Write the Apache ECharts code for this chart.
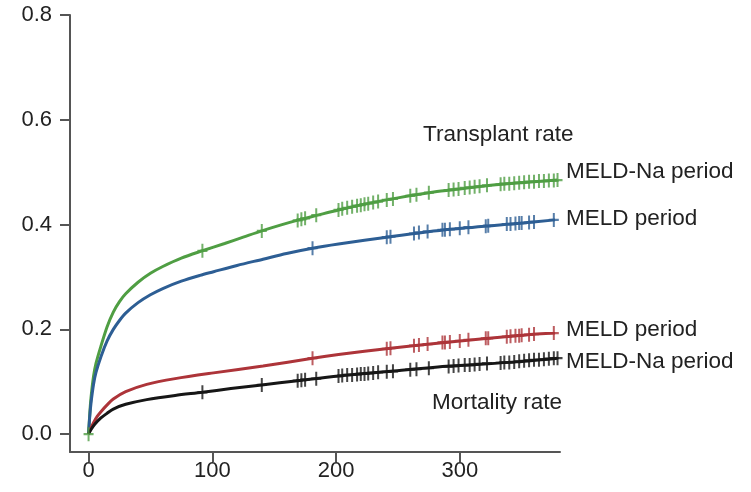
<!DOCTYPE html>
<html>
<head>
<meta charset="utf-8">
<script src="https://cdn.jsdelivr.net/npm/echarts@6/dist/echarts.min.js"></script>
<style>html,body{margin:0;padding:0;background:#fff}#c{width:751px;height:492px}</style>
</head>
<body>
<div id="c"></div>
<script>
// Axis ticks
var xTicks = [0, 100, 200, 300];
var yTicks = [0, 0.2, 0.4, 0.6, 0.8];

// Cumulative incidence curves [day, rate]
var transplantMeldNa = [[0,0],[1,0.04],[2,0.07],[4,0.11],[6,0.135],[10,0.168],[15,0.205],[20,0.233],[25,0.253],[30,0.268],[40,0.290],[50,0.307],[60,0.320],[75,0.336],[92,0.350],[110,0.364],[125,0.376],[140,0.388],[155,0.399],[170,0.409],[185,0.418],[202,0.428],[225,0.440],[250,0.451],[279,0.462],[300,0.468],[325,0.475],[350,0.480],[379,0.485]];
var transplantMeld = [[0,0],[1,0.035],[2,0.06],[4,0.095],[6,0.118],[10,0.148],[15,0.178],[20,0.200],[25,0.217],[30,0.231],[40,0.251],[50,0.266],[60,0.278],[75,0.292],[90,0.303],[101,0.310],[120,0.322],[141,0.334],[160,0.345],[181,0.355],[202,0.363],[244,0.377],[292,0.391],[346,0.402],[377,0.409]];
var mortalityMeld = [[0,0],[2,0.012],[4,0.022],[7,0.034],[10,0.043],[15,0.056],[20,0.067],[30,0.081],[47,0.095],[70,0.106],[101,0.117],[141,0.130],[181,0.145],[202,0.152],[244,0.164],[292,0.176],[346,0.188],[377,0.193]];
var mortalityMeldNa = [[0,0],[2,0.009],[5,0.019],[10,0.031],[15,0.040],[20,0.048],[30,0.057],[47,0.066],[70,0.074],[92,0.080],[115,0.087],[140,0.094],[169,0.102],[202,0.111],[244,0.120],[292,0.130],[346,0.138],[379,0.145]];

// Censoring marks [day, rate]
var censorTransplantMeldNa = [[0,0],[92,0.350],[140,0.388],[169,0.408],[172,0.410],[175,0.412],[184,0.418],[202,0.428],[205,0.430],[209,0.432],[213,0.434],[217,0.436],[220,0.437],[223,0.439],[226,0.440],[230,0.442],[234,0.444],[241,0.447],[246,0.449],[260,0.455],[265,0.457],[275,0.461],[291,0.466],[295,0.467],[299,0.468],[304,0.470],[308,0.471],[312,0.472],[316,0.473],[322,0.475],[333,0.477],[336,0.478],[340,0.478],[344,0.479],[348,0.480],[352,0.481],[356,0.482],[360,0.482],[364,0.483],[368,0.483],[372,0.484],[376,0.484],[379,0.485]];
var censorMortalityMeldNa = [[92,0.080],[140,0.094],[169,0.102],[172,0.103],[175,0.104],[184,0.106],[202,0.111],[205,0.112],[209,0.113],[213,0.113],[217,0.114],[220,0.115],[223,0.115],[226,0.116],[230,0.117],[234,0.118],[241,0.119],[246,0.120],[260,0.123],[265,0.124],[275,0.126],[291,0.129],[295,0.130],[299,0.131],[304,0.132],[308,0.132],[312,0.133],[316,0.134],[322,0.135],[333,0.136],[336,0.137],[340,0.137],[344,0.138],[348,0.139],[352,0.140],[356,0.141],[360,0.142],[364,0.142],[368,0.143],[372,0.144],[376,0.145],[379,0.145]];
var censorTransplantMeld = [[181,0.355],[241,0.376],[244,0.377],[263,0.383],[267,0.385],[274,0.387],[286,0.390],[288,0.390],[292,0.391],[300,0.393],[307,0.395],[321,0.397],[323,0.398],[338,0.401],[341,0.401],[345,0.402],[348,0.403],[350,0.403],[356,0.404],[360,0.405],[376,0.409]];
var censorMortalityMeld = [[181,0.145],[241,0.163],[244,0.164],[263,0.169],[267,0.170],[274,0.172],[286,0.175],[288,0.175],[292,0.176],[300,0.178],[307,0.180],[321,0.183],[323,0.183],[338,0.186],[341,0.187],[345,0.188],[348,0.188],[350,0.189],[356,0.190],[360,0.191],[376,0.193]];

var C_GREEN = '#4f9e43', C_BLUE = '#2d5e94', C_RED = '#ad3439', C_BLACK = '#161616';
var FONT = 'Liberation Sans, Arial, Helvetica, sans-serif';
var TXT = '#222';
var PLUS = 'path://M4,0H6V4.2H10V5.8H6V10H4V5.8H0V4.2H4Z';

function curve(data, color) {
  return {type: 'line', data: data, smooth: 0.3, symbol: 'none', z: 2,
    lineStyle: {color: color, width: 3}, itemStyle: {color: color}};
}
function marks(data, color) {
  return {type: 'scatter', data: data, symbol: PLUS, symbolSize: [10, 14], z: 3,
    itemStyle: {color: color}, silent: true};
}
function note(text, left, top) {
  return {type: 'text', left: left, top: top, style: {text: text, font: '22.5px ' + FONT, fill: TXT}};
}

var chart = echarts.init(document.getElementById('c'), null, {renderer: 'canvas'});
chart.setOption({
  animation: false,
  backgroundColor: '#fff',
  grid: {left: 70, right: 191, top: 15, bottom: 40, containLabel: false},
  xAxis: {
    type: 'value', min: -15, max: 381,
    axisLine: {onZero: false, lineStyle: {color: '#555', width: 2}},
    axisTick: {customValues: xTicks, length: 10, lineStyle: {color: '#555', width: 2}},
    axisLabel: {customValues: xTicks, fontSize: 22, color: TXT, fontFamily: FONT, margin: 8},
    splitLine: {show: false}
  },
  yAxis: {
    type: 'value', min: -0.034, max: 0.8,
    axisLine: {show: true, onZero: false, lineStyle: {color: '#555', width: 2}},
    axisTick: {show: true, customValues: yTicks, length: 10, lineStyle: {color: '#555', width: 2}},
    axisLabel: {customValues: yTicks, fontSize: 22, color: TXT, fontFamily: FONT, margin: 18,
      formatter: function (v) { return v.toFixed(1); }},
    splitLine: {show: false}
  },
  series: [
    curve(transplantMeldNa, C_GREEN),
    curve(transplantMeld, C_BLUE),
    curve(mortalityMeld, C_RED),
    curve(mortalityMeldNa, C_BLACK),
    marks(censorTransplantMeldNa, C_GREEN),
    marks(censorTransplantMeld, C_BLUE),
    marks(censorMortalityMeld, C_RED),
    marks(censorMortalityMeldNa, C_BLACK)
  ],
  graphic: [
    note('Transplant rate', 423, 123),
    note('MELD-Na period', 566, 160),
    note('MELD period', 566, 207),
    note('MELD period', 566, 318),
    note('MELD-Na period', 566, 350),
    note('Mortality rate', 432, 391)
  ]
});
</script>
</body>
</html>
